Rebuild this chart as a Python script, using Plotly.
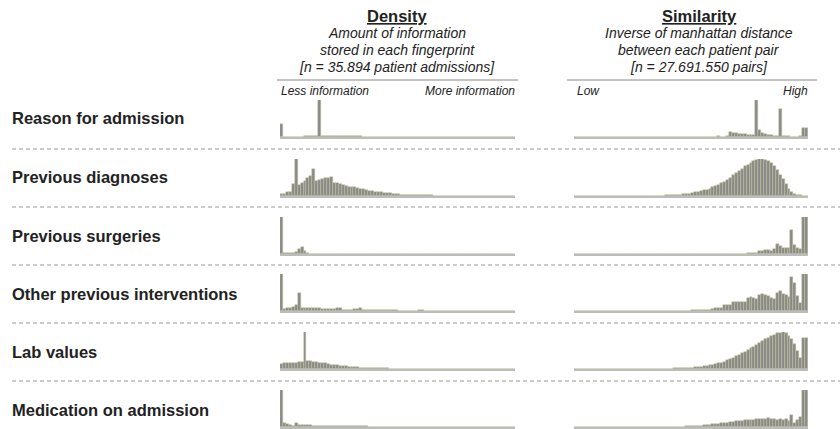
import plotly.graph_objects as go

W, H = 840, 429

row_labels = ["Reason for admission", "Previous diagnoses", "Previous surgeries",
              "Other previous interventions", "Lab values", "Medication on admission"]

# Density histograms (relative height, 80 bins)
dens_reason = [35, 0, 0, 0, 0, 0, 1, 1, 1.5, 1.5, 2, 2, 3, 100, 3, 2, 2, 1.5, 1.5, 1.5,
               1.5, 1.5, 1.5, 2, 2, 2, 3, 4, 0, 0, 0, 0, 0, 0, 0, 0, 0, 0, 0, 0,
               0, 0, 0, 0, 0, 0, 0, 0, 0, 0, 0, 0, 0, 0, 0, 0, 0, 0, 0, 0,
               0, 0, 0, 0, 0, 0, 0, 0, 0, 0, 0, 0, 0, 0, 0, 0, 0, 0, 0, 0]
dens_diag = [5, 5, 10, 12, 32, 100, 30, 36, 41, 48, 55, 73, 41, 43, 46, 49, 49, 52, 35, 36,
             32, 31, 28, 25, 23, 23, 21, 19, 18, 16, 14, 13, 12, 11, 10, 9, 8, 7, 6, 5,
             4.5, 4, 3.5, 3, 2.5, 2.5, 2, 2, 2, 1.5, 1.5, 1.5, 1, 1, 1, 1, 0.5, 1, 0, 1,
             0, 0, 0, 0, 0, 0, 0, 0, 0, 0, 0, 0, 0, 0, 0, 0, 0, 0, 0, 0]
dens_surg = [100, 2, 3, 4, 4, 6, 13, 19, 9, 2, 1, 1, 1, 1, 1, 1, 1, 1, 0.5, 0.5,
             0.5, 0.5, 0.5, 0.5, 0.5, 0, 0, 0, 0, 0, 0, 0, 0, 0, 0, 0, 0, 0, 0, 0,
             0, 0, 0, 0, 0, 0, 0, 0, 0, 0, 0, 0, 0, 0, 0, 0, 0, 0, 0, 0,
             0, 0, 0, 0, 0, 0, 0, 0, 0, 0, 0, 0, 0, 0, 0, 0, 0, 0, 0, 0]
dens_interv = [100, 6, 7, 8, 10, 16, 50, 8, 7, 7, 7, 8, 9, 8, 5, 5, 5, 5, 6, 7,
               8, 4, 4, 4, 4, 5, 5, 8, 4, 3, 3, 3, 3, 3, 3, 3, 2.5, 2.5, 2.5, 2.5,
               0, 0, 0, 0, 0, 0, 0, 2, 2, 0, 0, 0, 0, 0, 0, 0, 0, 0, 0, 0,
               0, 0, 0, 0, 0, 0, 0, 0, 0, 0, 0, 0, 0, 0, 0, 0, 0, 0, 0, 0]
dens_lab = [14, 15, 15, 16, 16, 17, 18, 20, 100, 22, 22, 20, 18, 17, 16, 15, 14, 12, 11, 10,
            9, 8, 7, 6, 5.5, 5, 4.5, 4, 3.5, 3, 3, 2.5, 2.5, 2, 2, 1.5, 1.5, 1, 1, 1,
            0.5, 0, 0, 0, 0, 0, 0, 0, 0, 0, 0, 0, 0, 0, 0, 0, 0, 0, 0, 0,
            0, 0, 0, 0, 0, 0, 0, 0, 0, 0, 0, 0, 0, 0, 0, 0, 0, 0, 0, 0]
dens_med = [100, 11, 7, 5, 3, 10, 6, 5, 5, 5, 5, 4, 4, 4, 4, 4, 3.5, 3.5, 3.5, 3,
            3, 2.5, 2.5, 2, 2, 2, 2, 1.5, 1.5, 1.5, 1, 1, 1, 1, 1, 0.5, 0.5, 0.5, 0.5, 0.5,
            0, 0, 0, 0, 0, 0, 0, 0, 0, 0, 0, 0, 0, 0, 0, 0, 0, 0, 0, 0,
            0, 0, 0, 0, 0, 0, 0, 0, 0, 0, 0, 0, 0, 0, 0, 0, 0, 0, 0, 0]

# Similarity histograms (relative height, 80 bins)
sim_reason = [0, 0, 0, 0, 0, 0, 0, 0, 0, 0, 0, 0, 0, 0, 0, 0, 0, 0, 0, 0,
              0, 0, 0, 0, 0, 0, 0, 0, 0, 0, 0, 0, 0, 0, 0, 0, 0, 0, 0, 0,
              0, 0, 0, 0, 1, 1, 1, 0.5, 1, 1.5, 1, 1, 2, 14, 12, 10, 9, 8, 7, 6,
              6, 5, 100, 20, 11, 7, 6, 5, 4, 3, 77, 4, 2, 1.5, 1, 1, 1, 2, 25, 25]
sim_diag = [0, 0, 0, 0, 0, 0, 0, 0, 0, 0, 0, 0, 0, 0, 0, 0, 0, 0, 0, 0,
            0, 0, 0, 0, 0, 0, 0, 0.5, 0.5, 1, 1, 1.5, 1.5, 2, 2.5, 3, 3.5, 4.5, 5.5, 6.5,
            8, 9.5, 11, 13, 15, 17, 20, 23, 26, 30, 34, 39, 44, 50, 56, 62, 68, 74, 80, 85,
            90, 94, 97, 99, 100, 98, 94, 88, 80, 70, 58, 45, 32, 20, 11, 6, 3, 2, 1, 1]
sim_surg = [0, 0, 0, 0, 0, 0, 0, 0, 0, 0, 0, 0, 0, 0, 0, 0, 0, 0, 0, 0,
            0, 0, 0, 0, 0, 0, 0, 0, 0, 0, 0, 0, 0, 0, 0, 0, 0, 0, 0, 0,
            0, 0, 0, 0, 0, 0, 0, 0, 0, 0, 0, 0, 0, 0, 0.5, 0.5, 0.5, 1, 1, 1.5,
            2, 3, 4, 8, 9, 10, 10, 9, 14, 26, 22, 17, 16, 17, 64, 25, 15, 13, 100, 100]
sim_interv = [0, 0, 0, 0, 0, 0, 0, 0, 0, 0, 0, 0, 0, 0, 0, 0, 0, 0, 0, 0,
              0, 0, 0, 0, 0, 0, 0, 0, 0, 0, 0, 0, 0, 0, 0, 0.5, 0.5, 1, 1, 1,
              1.5, 2, 2, 2.5, 3, 3.5, 4, 6, 8, 8, 9, 15, 16, 15, 25, 24, 24, 23, 24, 36,
              38, 35, 33, 44, 45, 43, 40, 36, 32, 50, 55, 47, 42, 38, 92, 76, 40, 22, 100, 100]
sim_lab = [0, 0, 0, 0, 0, 0, 0, 0, 0, 0, 0, 0, 0, 0, 0, 0, 0, 0, 0, 0,
           0, 0, 0, 0, 0, 0, 0, 0, 0, 0, 0, 0.5, 1, 1, 1.5, 1.5, 2, 2.5, 3, 3,
           4, 4.5, 5.5, 6, 7, 8.5, 10, 11.5, 13, 15, 17, 20, 23, 26, 30, 34, 38, 42, 47, 51,
           56, 60, 65, 70, 75, 80, 85, 89, 93, 96, 98, 100, 97, 90, 80, 68, 50, 30, 84, 84]
sim_med = [0, 0, 0, 0, 0, 0, 0, 0, 0, 0, 0, 0, 0, 0, 0, 0, 0, 0, 0, 0,
           0, 0, 0, 0, 0, 0, 0, 0, 0, 0, 0, 0, 0, 0, 0.5, 0.5, 1, 1, 1.5, 2,
           2.5, 3, 3.5, 4, 5, 6, 6.5, 7, 8, 9, 10, 11, 12, 13, 14, 15, 16, 17, 18, 18,
           19, 20, 21, 22, 21, 22, 23, 21, 22, 20, 21, 18, 22, 16, 32, 10, 18, 26, 100, 100]

density = [dens_reason, dens_diag, dens_surg, dens_interv, dens_lab, dens_med]
similarity = [sim_reason, sim_diag, sim_surg, sim_interv, sim_lab, sim_med]
for s in density + similarity:
    assert len(s) == 80, len(s)

bins = list(range(80))

baselines = [137, 196, 254, 311, 369, 427]
label_y = [118, 177, 236, 294, 352, 410]
separators = [149, 207, 265, 323, 381]
panel_h = 37
dens_x = (280, 515)
sim_x = (574, 808)

BAR = "#8a8a8a"
EDGE = "#c0c496"
TXT = "#222222"

fig = go.Figure()
layout = {}
n = 0
for r in range(6):
    for c, (data, xr) in enumerate([(density[r], dens_x), (similarity[r], sim_x)]):
        n += 1
        xa = "x" if n == 1 else f"x{n}"
        ya = "y" if n == 1 else f"y{n}"
        fig.add_trace(go.Bar(x=bins, y=data, xaxis=xa, yaxis=ya,
                             marker=dict(color=BAR, line=dict(color=EDGE, width=0.5)),
                             showlegend=False, hoverinfo="skip"))
        key_x = "xaxis" if n == 1 else f"xaxis{n}"
        key_y = "yaxis" if n == 1 else f"yaxis{n}"
        b = baselines[r]
        layout[key_x] = dict(domain=[xr[0] / W, xr[1] / W], range=[-0.5, 79.5],
                             showline=True, linecolor="#bcbcbc", linewidth=1.5,
                             showgrid=False, zeroline=False, showticklabels=False,
                             ticks="", anchor=ya, fixedrange=True)
        layout[key_y] = dict(domain=[1 - b / H, 1 - (b - panel_h) / H], range=[0, 100],
                             showline=False, showgrid=False, zeroline=False,
                             showticklabels=False, ticks="", anchor=xa, fixedrange=True)

fig.update_layout(**layout)

def py(ypix):
    return 1 - ypix / H

annotations = []
FONT = "Liberation Sans, Arial, sans-serif"
for lab, yy in zip(row_labels, label_y):
    annotations.append(dict(x=10 / W, y=py(yy), xref="paper", yref="paper",
                            xanchor="left", yanchor="middle", showarrow=False,
                            text=f"<b>{lab}</b>", font=dict(size=16.5, color=TXT, family=FONT)))

def header(cx, lines):
    out = [dict(x=cx / W, y=py(16), xref="paper", yref="paper", xanchor="center",
                yanchor="middle", showarrow=False, text=f"<b><u>{lines[0]}</u></b>",
                font=dict(size=16.5, color=TXT, family=FONT))]
    for i, t in enumerate(lines[1:]):
        out.append(dict(x=cx / W, y=py(33.5 + 17 * i), xref="paper", yref="paper",
                        xanchor="center", yanchor="middle", showarrow=False,
                        text=f"<i>{t}</i>", font=dict(size=14, color=TXT, family=FONT)))
    return out

annotations += header(397, ["Density", "Amount of information", "stored in each fingerprint",
                            "[n = 35.894 patient admissions]"])
annotations += header(699, ["Similarity", "Inverse of manhattan distance",
                            "between each patient pair", "[n = 27.691.550 pairs]"])

small = [("Less information", 279, "left"), ("More information", 517, "right"),
         ("Low", 575, "left"), ("High", 810, "right")]
for t, xx, anc in small:
    annotations.append(dict(x=xx / W, y=py(91), xref="paper", yref="paper", xanchor=anc,
                            yanchor="middle", showarrow=False, text=f"<i>{t}</i>",
                            font=dict(size=12, color=TXT, family=FONT)))

shapes = []
for s in separators:
    shapes.append(dict(type="line", xref="paper", yref="paper", x0=12 / W, x1=1,
                       y0=py(s), y1=py(s), line=dict(color="#999999", width=1, dash="4px,3px")))
for x0, x1 in [(277, 518), (567, 817)]:
    shapes.append(dict(type="line", xref="paper", yref="paper", x0=x0 / W, x1=x1 / W,
                       y0=py(80), y1=py(80), line=dict(color="#888888", width=1)))

fig.update_layout(width=W, height=H, margin=dict(l=0, r=0, t=0, b=0),
                  paper_bgcolor="white", plot_bgcolor="white",
                  bargap=0, annotations=annotations, shapes=shapes,
                  font=dict(family=FONT))

fig.write_html("out.html", config={"displayModeBar": False})
